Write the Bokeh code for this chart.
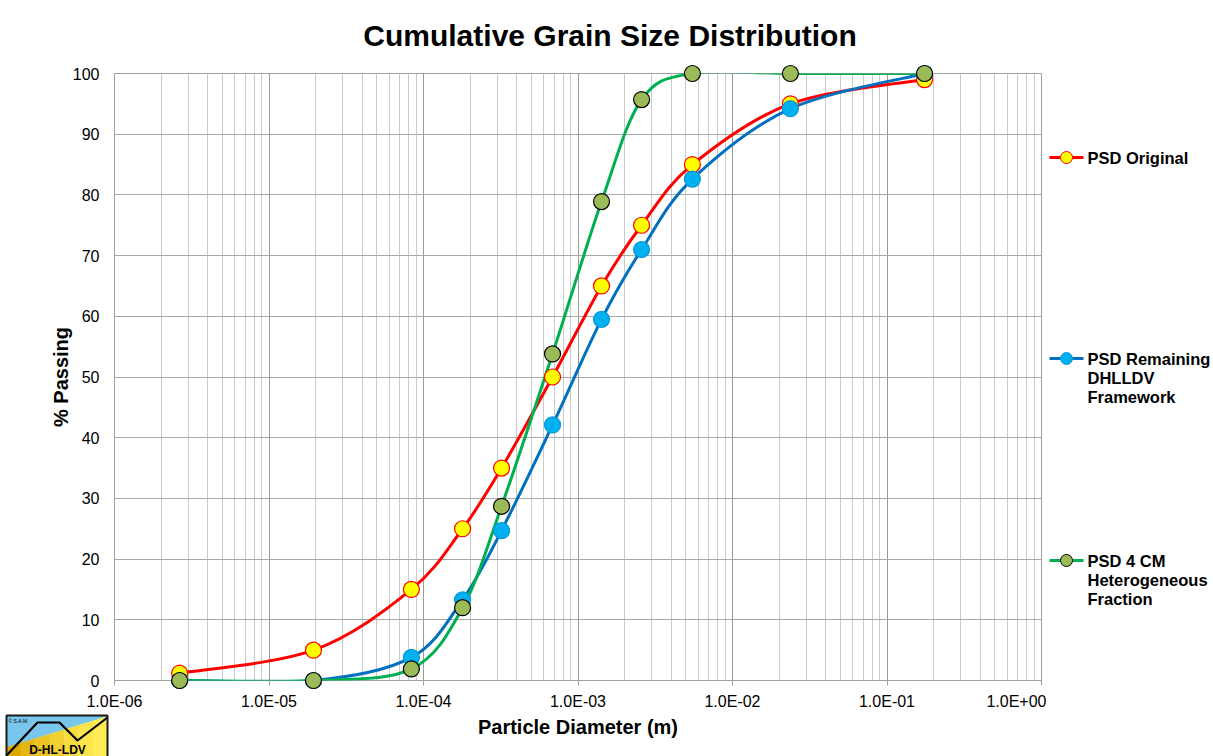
import numpy as np
from bokeh.plotting import figure
from bokeh.layouts import row
from bokeh.models import (Range1d, FixedTicker, CustomJSTickFormatter, LinearScale,
                          ColumnDataSource)
from bokeh.core.properties import value
from bokeh.embed import file_html
from bokeh.resources import INLINE

# ---------------- data ----------------
diameter_m = [2.64e-6, 1.94e-5, 8.35e-5, 1.79e-4, 3.20e-4, 6.84e-4,
              1.42e-3, 2.58e-3, 5.50e-3, 2.37e-2, 1.75e-1]
psd_original = [1.2, 5.0, 15.0, 25.0, 35.0, 50.0, 65.0, 75.0, 85.0, 95.0, 99.0]
psd_remaining = [0.0, 0.0, 3.8, 13.3, 24.7, 42.1, 59.5, 71.0, 82.6, 94.2, 100.0]
psd_heterogeneous = [0.0, 0.0, 1.9, 12.0, 28.7, 53.8, 78.9, 95.7, 100.0, 100.0, 100.0]

series_names = [["PSD Original"],
                ["PSD Remaining", "DHLLDV", "Framework"],
                ["PSD 4 CM", "Heterogeneous", "Fraction"]]

x_ticks = [1e-6, 1e-5, 1e-4, 1e-3, 1e-2, 1e-1, 1e0]
x_tick_labels = ["1.0E-06", "1.0E-05", "1.0E-04", "1.0E-03", "1.0E-02", "1.0E-01", "1.0E+00"]
y_ticks = [0, 10, 20, 30, 40, 50, 60, 70, 80, 90, 100]

title_text = "Cumulative Grain Size Distribution"
x_label = "Particle Diameter (m)"
y_label = "% Passing"
logo_text = "D-HL-LDV"
logo_copy = "© S.A.M."

# ---------------- styles / layout ----------------
FONT = "Liberation Sans"
styles = [
    dict(line="#FF0000", fill="#FFFF00", edge="#FF0000"),
    dict(line="#0070C0", fill="#00B0F0", edge="#0A96D8"),
    dict(line="#00B050", fill="#9BBB59", edge="#000000"),
]

W1, W2, H = 1046, 167, 756
FL, FR, FT, FB = 114, 1041, 73, 680   # frame edges in canvas pixels

p = figure(width=W1, height=H, x_axis_type="log",
           x_range=Range1d(x_ticks[0], x_ticks[-1]), y_range=Range1d(0, 100),
           output_backend="svg", toolbar_location=None,
           min_border_left=FL, min_border_right=W1 - FR, min_border_top=FT,
           min_border_bottom=H - FB)
p.background_fill_color = "white"
p.border_fill_color = "white"
p.outline_line_color = "#A0A0A0"
p.outline_line_width = 1

# x axis
minor = [k * 10.0 ** e for e in range(-6, 0) for k in range(2, 10)]
xt = FixedTicker(ticks=x_ticks, minor_ticks=minor)
p.xaxis.ticker = xt
p.xgrid.ticker = xt
p.xaxis.formatter = CustomJSTickFormatter(args=dict(tvals=x_ticks, tlabels=x_tick_labels), code="""
    let best = 0, bd = 1e9;
    for (let i = 0; i < tvals.length; i++) {
        const d = Math.abs(Math.log10(tvals[i]) - Math.log10(tick));
        if (d < bd) { bd = d; best = i; }
    }
    return tlabels[best];
""")
p.xaxis.axis_label = x_label
p.xaxis.axis_line_color = None
p.xaxis.major_tick_out = 5
p.xaxis.major_tick_in = 0
p.xaxis.major_tick_line_color = "#A0A0A0"
p.xaxis.minor_tick_line_color = None
p.xaxis.major_label_standoff = 7
p.xaxis.axis_label_standoff = 3

# y axis
yt = FixedTicker(ticks=y_ticks)
p.yaxis.ticker = yt
p.ygrid.ticker = yt
p.yaxis.axis_label = y_label
p.yaxis.axis_line_color = None
p.yaxis.major_tick_out = 0
p.yaxis.major_tick_in = 0
p.yaxis.minor_tick_line_color = None
p.yaxis.major_label_standoff = 15
p.yaxis.axis_label_standoff = -2

for ax in (p.xaxis, p.yaxis):
    ax.major_label_text_font = FONT
    ax.major_label_text_font_size = "16px"
    ax.major_label_text_color = "black"
    ax.axis_label_text_font = FONT
    ax.axis_label_text_font_size = "20px"
    ax.axis_label_text_font_style = "bold"
    ax.axis_label_text_color = "black"

p.xgrid.grid_line_color = "#9A9A9A"
p.xgrid.minor_grid_line_color = "#CACACA"
p.ygrid.grid_line_color = "#A8A8A8"


def smooth_segments(xs, ys):
    u = np.log10(np.asarray(xs, dtype=float))
    v = np.asarray(ys, dtype=float)
    n = len(u)
    d = dict(x0=[], y0=[], x1=[], y1=[], cx0=[], cy0=[], cx1=[], cy1=[])
    for i in range(n - 1):
        a = max(i - 1, 0)
        b = min(i + 2, n - 1)
        c0u = u[i] + (u[i + 1] - u[a]) / 6.0
        c0v = v[i] + (v[i + 1] - v[a]) / 6.0
        c1u = u[i + 1] - (u[b] - u[i]) / 6.0
        c1v = v[i + 1] - (v[b] - v[i]) / 6.0
        d["x0"].append(10 ** u[i]); d["y0"].append(v[i])
        d["x1"].append(10 ** u[i + 1]); d["y1"].append(v[i + 1])
        d["cx0"].append(10 ** c0u); d["cy0"].append(c0v)
        d["cx1"].append(10 ** c1u); d["cy1"].append(c1v)
    return ColumnDataSource(d)


all_series = [psd_original, psd_remaining, psd_heterogeneous]
for ys, st in zip(all_series, styles):
    p.bezier(x0="x0", y0="y0", x1="x1", y1="y1", cx0="cx0", cy0="cy0", cx1="cx1", cy1="cy1",
             source=smooth_segments(diameter_m, ys), line_color=st["line"], line_width=3,
             line_cap="round")
for ys, st in zip(all_series, styles):
    p.scatter(diameter_m, ys, marker="circle", size=16, fill_color=st["fill"],
              line_color=st["edge"], line_width=1.2, level="overlay")

# ---------------- canvas-pixel overlay: title and logo ----------------
p.extra_x_ranges = {"px": Range1d(FL, FR)}
p.extra_y_ranges = {"py": Range1d(FB, FT)}
p.extra_x_scales = {"px": LinearScale()}
p.extra_y_scales = {"py": LinearScale()}
pix = dict(x_range_name="px", y_range_name="py", level="overlay")

p.text(x=[609.5], y=[35], text=[title_text], text_font=value(FONT), text_font_size="30px",
       text_font_style="bold", text_align="center", text_baseline="middle",
       text_color="black", **pix)

LX0, LX1, LY0, LY1 = 6, 107, 715, 762
d_left, d_right = 747, 716        # diagonal dividing blue / yellow
p.patch([LX0, LX1, LX1, LX0], [LY0, LY0, d_right, d_left],
        fill_color="#78C6EC", line_color=None, **pix)
yellow_steps = ["#DDA800", "#E6B712", "#EDC323", "#F3D032", "#F8DC3F", "#FCE54A", "#FFEC55"]
ns = len(yellow_steps)
for k, col in enumerate(yellow_steps):
    xa = LX0 + (LX1 - LX0) * k / ns
    xb = LX0 + (LX1 - LX0) * (k + 1) / ns
    ya = d_left + (d_right - d_left) * k / ns
    yb = d_left + (d_right - d_left) * (k + 1) / ns
    p.patch([xa, xb, xb, xa], [ya, yb, LY1, LY1], fill_color=col, line_color=col,
            line_width=0.5, **pix)
p.line([6, 37, 59, 77, 107], [755, 722, 722, 740, 717], line_color="black", line_width=2.2, **pix)
p.patch([LX0, LX1, LX1, LX0], [LY0, LY0, LY1, LY1], fill_alpha=0, line_color="#1A1A1A",
        line_width=2, **pix)
p.text(x=[57], y=[749], text=[logo_text], text_font=value(FONT), text_font_size="12px",
       text_font_style="bold", text_align="center", text_baseline="middle",
       text_color="black", **pix)
p.text(x=[8], y=[720], text=[logo_copy], text_font=value(FONT), text_font_size="5px",
       text_align="left", text_baseline="middle", text_color="black", **pix)

# ---------------- legend panel ----------------
q = figure(width=W2, height=H, x_range=Range1d(0, W2), y_range=Range1d(FB, FT),
           x_axis_location=None, y_axis_location=None, output_backend="svg",
           toolbar_location=None, min_border=0)
q.outline_line_color = None
q.background_fill_color = "white"
q.border_fill_color = "white"
q.grid.visible = False

legend_top = [157, 358, 560]
line_gap = 19
for names, st, y0 in zip(series_names, styles, legend_top):
    q.segment(x0=[3], y0=[y0], x1=[37], y1=[y0], line_color=st["line"], line_width=3)
    q.scatter([20], [y0], marker="circle", size=12, fill_color=st["fill"],
              line_color=st["edge"], line_width=1)
    q.text(x=[41] * len(names), y=[y0 + k * line_gap for k in range(len(names))], text=names,
           text_font=value(FONT), text_font_size="16.5px", text_font_style="bold",
           text_align="left", text_baseline="middle", text_color="black")

layout = row(p, q)
open("out.html", "w").write(file_html(layout, INLINE))
